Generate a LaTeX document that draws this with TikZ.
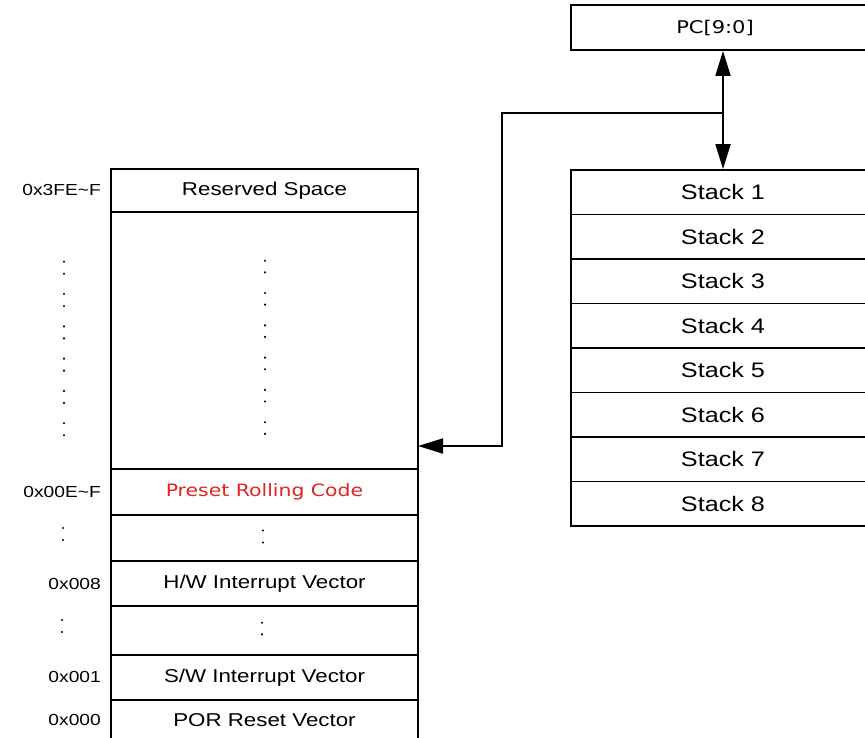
\documentclass[tikz,border=0pt]{standalone}
\usepackage{fontspec}
\usetikzlibrary{arrows.meta}
\newfontfamily\arl{Liberation Sans}[FakeStretch=1.2]
\newfontfamily\dvs{DejaVu Sans}[FakeStretch=1.2]
\definecolor{codered}{RGB}{225,35,35}
\begin{document}
\begin{tikzpicture}[x=1pt,y=-1pt,
  cell/.style={draw=black,line width=1.8pt,rectangle,inner sep=0pt,minimum width=307pt,font=\arl\fontsize{18.6}{20}\selectfont},
  stk/.style={draw=black,line width=1.8pt,rectangle,inner sep=0pt,minimum width=304pt,minimum height=44.5pt,font=\arl\fontsize{21}{24}\selectfont},
  addr/.style={anchor=east,inner sep=0pt,font=\arl\fontsize{16}{18}\selectfont},
  conn/.style={line width=1.8pt,draw=black},
  dotmark/.style={fill=black,draw=none}]
\useasboundingbox (0,0) rectangle (865,737);
\fill[white] (0,0) rectangle (865,737);
% left memory column
\node[cell,minimum height=43pt] (rs) at (264.5,190.5) {Reserved Space};
\node[cell,minimum height=257pt] (blank) at (264.5,340.5) {};
\node[cell,minimum height=46pt,text=codered,font=\dvs\fontsize{17}{20}\selectfont] (prc) at (264.5,492) {Preset Rolling Code};
\node[cell,minimum height=46pt] (d1) at (264.5,538) {};
\node[cell,minimum height=45pt] (hw) at (264.5,583.5) {H/W Interrupt Vector};
\node[cell,minimum height=49pt] (d2) at (264.5,630.5) {};
\node[cell,minimum height=45pt] (sw) at (264.5,677.5) {S/W Interrupt Vector};
\node[cell,minimum height=40pt] (por) at (264.5,720) {POR Reset Vector};
% addresses
\node[addr] (a1) at (101,190) {0x3FE\char`~F};
\node[addr] (a2) at (101,492) {0x00E\char`~F};
\node[addr] (a3) at (101,584) {0x008};
\node[addr] (a4) at (101,677) {0x001};
\node[addr] (a5) at (101,720) {0x000};
% dots
\foreach \k in {0,...,5} {
  \fill[dotmark] (265,{260.7+32.3*\k}) circle (1.2pt);
  \fill[dotmark] (265,{272.3+32.3*\k}) circle (1.2pt);
  \fill[dotmark] (64,{261.7+32.3*\k}) circle (1.2pt);
  \fill[dotmark] (64,{273.7+32.3*\k}) circle (1.2pt);
}
\fill[dotmark] (263,530.5) circle (1.2pt);
\fill[dotmark] (263,542.5) circle (1.2pt);
\fill[dotmark] (63,528) circle (1.2pt);
\fill[dotmark] (63,540) circle (1.2pt);
\fill[dotmark] (262,622.7) circle (1.2pt);
\fill[dotmark] (262,634.3) circle (1.2pt);
\fill[dotmark] (62,620) circle (1.2pt);
\fill[dotmark] (62,632) circle (1.2pt);
% PC and stack
\node[draw=black,line width=1.8pt,rectangle,inner sep=0pt,minimum width=304pt,minimum height=45pt] (pc) at (723,27.5) {};
\node[font=\dvs\fontsize{17.5}{20}\selectfont,inner sep=0pt] (pct) at (715,28) {PC[9:0]};
\foreach \i in {1,...,8} {
  \node[stk] (s\i) at (723,{170+44.5*(\i-0.5)}) {Stack \i};
}
% connectors
\draw[conn,{Triangle[length=25pt,width=15pt]}-{Triangle[length=25pt,width=15pt]}] (pc.south) -- (s1.north);
\coordinate (j) at (723,113);
\coordinate (k1) at (502,113);
\coordinate (k2) at (502,446);
\coordinate (t) at (418,446);
\draw[conn,-{Triangle[length=25pt,width=15pt]}] (j) -- (k1) -- (k2) -- (t);
\end{tikzpicture}
\end{document}
